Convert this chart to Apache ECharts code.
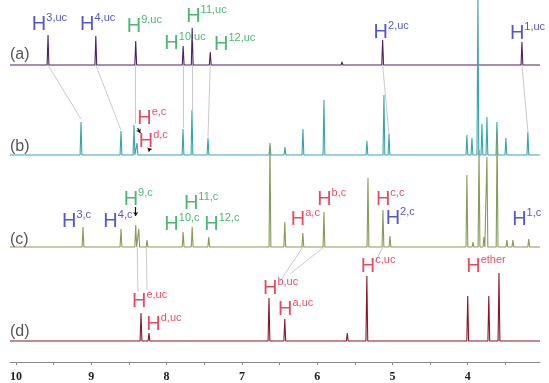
<!DOCTYPE html>
<html>
<head>
<meta charset="utf-8">
<script src="https://cdn.jsdelivr.net/npm/echarts@6/dist/echarts.min.js"></script>
<style>
  html, body { margin: 0; padding: 0; background: #fff; }
  #main { width: 549px; height: 383px; }
</style>
</head>
<body>
<div id="main"></div>
<script>
// chemical shifts (ppm) and peak heights, one pair per trace
var ppmA = [9.575, 8.94, 8.41, 7.78, 7.66, 7.42, 5.67, 5.13, 3.28];
var hA   = [30, 29, 24, 19, 37, 13, 3, 25, 23];

var ppmB = [9.137, 8.606, 8.433, 8.393, 7.782, 7.663, 7.45, 6.627, 6.428, 6.189, 5.91, 5.339, 5.113, 5.046, 4.011, 3.944, 3.865, 3.811, 3.745, 3.612, 3.493, 3.201];
var hB   = [33, 24, 30, 12, 26, 45, 17, 10, 8, 26, 55, 14, 60, 21, 20, 17, 160, 31, 38, 33, 17, 23];

var ppmC = [9.11, 8.606, 8.41, 8.37, 8.26, 7.78, 7.66, 7.44, 6.627, 6.43, 6.19, 5.91, 5.325, 5.126, 5.033, 4.011, 3.93, 3.85, 3.785, 3.745, 3.61, 3.48, 3.40, 3.19];
var hC   = [20, 18, 22, 18, 7, 15, 20, 10, 104, 25, 14, 35, 69, 37, 11, 72, 5, 97, 10, 90, 115, 7, 7, 8];

var ppmD = [8.34, 8.234, 6.64, 6.43, 5.60, 5.34, 4.00, 3.72, 3.585];
var hD   = [28, 8, 43, 22, 8, 65, 45, 45, 68];

var traceNames = ['(a)', '(b)', '(c)', '(d)'];
var baselines  = [297, 207, 115, 21];
var traceColors = ['#4e2164', '#37a6ac', '#879c55', '#8a1628'];

var tickLabels = [4, 5, 6, 7, 8, 9, 10];
var tickMarks  = [3.5, 4, 4.5, 5, 5.5, 6, 6.5, 7, 7.5, 8, 8.5, 9, 9.5, 10];

var X_MIN = 3.04, X_MAX = 10.08;

// assignment labels: [sup text, colour key, ppm, level]
var labels = [
  ['3,uc', 'b', 9.79, 350], ['4,uc', 'b', 9.15, 350], ['9,uc', 'g', 8.53, 348],
  ['11,uc', 'g', 7.74, 358], ['10,uc', 'g', 8.03, 331], ['12,uc', 'g', 7.37, 330],
  ['2,uc', 'b', 5.25, 342], ['1,uc', 'b', 3.44, 341],
  ['e,c', 'r', 8.39, 256], ['d,c', 'r', 8.37, 233],
  ['3,c', 'b', 9.39, 153], ['4,c', 'b', 8.84, 153], ['9,c', 'g', 8.57, 175],
  ['11,c', 'g', 7.77, 171], ['10,c', 'g', 8.03, 150], ['12,c', 'g', 7.50, 150],
  ['a,c', 'r', 6.35, 155], ['b,c', 'r', 6.00, 175], ['c,c', 'r', 5.22, 175],
  ['2,c', 'b', 5.09, 156], ['1,c', 'b', 3.41, 155],
  ['e,uc', 'r', 8.46, 73], ['d,uc', 'r', 8.27, 50], ['b,uc', 'r', 6.72, 86],
  ['a,uc', 'r', 6.52, 65], ['c,uc', 'r', 5.42, 108], ['ether', 'r', 4.02, 108]
];
var nameLevels = [315, 223, 130, 38];

// grey guide lines between traces: [ppm1, level1, ppm2, level2]
var links = [
  [9.575, 297, 9.137, 243], [8.94, 297, 8.606, 232], [8.41, 297, 8.41, 238],
  [7.78, 297, 7.78, 234], [7.66, 297, 7.66, 252], [7.42, 297, 7.45, 225],
  [5.13, 297, 5.046, 228], [3.28, 297, 3.20, 230],
  [8.39, 115, 8.38, 70], [8.27, 115, 8.26, 72],
  [6.19, 115, 6.50, 80], [5.91, 115, 6.36, 88], [5.126, 115, 5.23, 100]
];
// small black pointer marks
var pointers = [
  [8.41, 155, 8.41, 146], [8.385, 234, 8.35, 229], [8.25, 212, 8.20, 213]
];

var colorMap = { b: '#2a2ac4', g: '#1fa453', r: '#e01e3c' };

function buildTrace(ppm, h, base) {
  var w = 0.012;
  var idx = ppm.map(function (p, i) { return i; });
  idx.sort(function (i, j) { return ppm[j] - ppm[i]; });
  var pts = [[X_MAX, base]];
  idx.forEach(function (i) {
    pts.push([ppm[i] + w, base]);
    pts.push([ppm[i], base + h[i]]);
    pts.push([ppm[i] - w, base]);
  });
  pts.push([X_MIN, base]);
  return pts;
}

var chart = echarts.init(document.getElementById('main'));

var allPpm = [ppmA, ppmB, ppmC, ppmD];
var allH = [hA, hB, hC, hD];

var series = [];

series.push({
  type: 'lines',
  coordinateSystem: 'cartesian2d',
  silent: true,
  lineStyle: { color: '#bdbdbd', width: 0.8, opacity: 1 },
  data: links.map(function (l) { return { coords: [[l[0], l[1]], [l[2], l[3]]] }; }),
  z: 1
});

series.push({
  type: 'lines',
  coordinateSystem: 'cartesian2d',
  silent: true,
  symbol: ['none', 'arrow'],
  symbolSize: 4,
  lineStyle: { color: '#111', width: 1.2, opacity: 1 },
  data: pointers.map(function (l) { return { coords: [[l[0], l[1]], [l[2], l[3]]] }; }),
  z: 6
});

for (var k = 0; k < 4; k++) {
  series.push({
    type: 'line',
    name: traceNames[k],
    data: buildTrace(allPpm[k], allH[k], baselines[k]),
    showSymbol: false,
    symbol: 'none',
    clip: true,
    lineStyle: { color: traceColors[k], width: 1.1 },
    animation: false,
    z: 3
  });
}

var rich = {
  h: { fontSize: 20, lineHeight: 24, fontFamily: 'Liberation Sans' },
  s: { fontSize: 11, lineHeight: 10, verticalAlign: 'top', fontFamily: 'Liberation Sans' },
  n: { fontSize: 16, lineHeight: 16, fontFamily: 'Liberation Sans', color: '#2a2a2a' }
};
function richFor(c) {
  return {
    h: Object.assign({}, rich.h, { color: c }),
    s: Object.assign({}, rich.s, { color: c })
  };
}

series.push({
  type: 'scatter',
  symbolSize: 0,
  silent: true,
  z: 5,
  data: labels.map(function (l) {
    return {
      value: [l[2], l[3]],
      label: {
        show: true,
        position: [0, 0],
        formatter: '{h|H}{s|' + l[0] + '}',
        rich: richFor(colorMap[l[1]])
      }
    };
  }).concat(traceNames.map(function (n, i) {
    return {
      value: [X_MAX, nameLevels[i]],
      label: { show: true, position: [0, 0], formatter: '{n|' + n + '}', rich: { n: rich.n } }
    };
  }))
});

chart.setOption({
  animation: false,
  backgroundColor: '#fff',
  grid: { left: 10, right: 9, top: 0, bottom: 21, containLabel: false },
  xAxis: {
    type: 'value',
    inverse: true,
    min: X_MIN,
    max: X_MAX,
    splitLine: { show: false },
    axisLine: { show: true, lineStyle: { color: '#8a8a8a', width: 1 } },
    axisTick: { show: true, length: 3, customValues: tickMarks, lineStyle: { color: '#8a8a8a' } },
    axisLabel: {
      customValues: tickLabels,
      margin: 9,
      fontFamily: 'Liberation Serif',
      fontWeight: 'bold',
      fontSize: 12,
      color: '#222'
    }
  },
  yAxis: { type: 'value', min: 0, max: 362, show: false },
  series: series
});
</script>
</body>
</html>
